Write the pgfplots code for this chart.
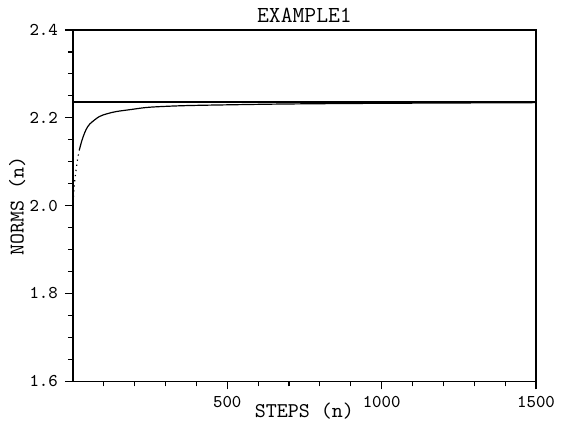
\documentclass[border=0pt]{standalone}
\usepackage{pgfplots}
\pgfplotsset{compat=1.18}
\begin{document}
\begin{tikzpicture}
\begin{axis}[
  width=232pt, height=176pt, scale only axis,
  xmin=0, xmax=1500, ymin=1.6, ymax=2.4,
  axis line style={line width=0.75pt},
  xtick={500,1000,1500},
  minor xtick={100,200,300,400,600,700,800,900,1100,1200,1300,1400},
  ytick={1.6,1.8,2.0,2.2,2.4},
  minor ytick={1.65,1.7,1.75,1.85,1.9,1.95,2.05,2.1,2.15,2.25,2.3,2.35},
  tick pos=left, tick align=outside,
  major tick length=4pt, minor tick length=2.5pt,
  every tick/.style={black, line width=0.6pt},
  yticklabel style={/pgf/number format/.cd, fixed, fixed zerofill, precision=1},
  xticklabel style={yshift=0pt, /pgf/number format/.cd, 1000 sep={}},
  /pgf/number format/assume math mode=true,
  tick label style={font=\ttfamily\fontsize{9}{11}\selectfont},
  title={EXAMPLE1},
  title style={font=\ttfamily\fontsize{11.5}{12}\selectfont,
    at={(rel axis cs:0.5,1)}, anchor=center, yshift=1.25pt},
  xlabel={STEPS (n)},
  ylabel={NORMS (n)},
  label style={font=\ttfamily\fontsize{10.5}{12}\selectfont},
  xlabel style={at={(rel axis cs:0.5,-0.085)}, anchor=center},
  ylabel style={at={(rel axis cs:-0.12,0.5)}, anchor=center},
]
\coordinate (bl) at (rel axis cs:0,0);
\coordinate (tr) at (rel axis cs:1,1);
% limit value sqrt(5)
\addplot[black, line width=0.6pt] coordinates {(0,2.2361) (1500,2.2361)};
% early steps, drawn dotted
\addplot[black, dotted, line width=0.6pt] coordinates {
(2,2.02) (5,2.05) (10,2.08) (15,2.105) (21,2.127)
};
\addplot[black, line width=0.6pt, smooth] coordinates {
(21,2.127) (30,2.150) (42,2.172) (55,2.186) (85,2.2025) (110,2.209)
(139,2.214) (190,2.219) (247,2.224) (355,2.2275) (500,2.2295)
(700,2.2315) (1000,2.233) (1500,2.2345)
};
\end{axis}
\pgfresetboundingbox
\useasboundingbox ([shift={(-36.5pt,-23.5pt)}]bl) rectangle ([shift={(12.5pt,15pt)}]tr);
\end{tikzpicture}
\end{document}
